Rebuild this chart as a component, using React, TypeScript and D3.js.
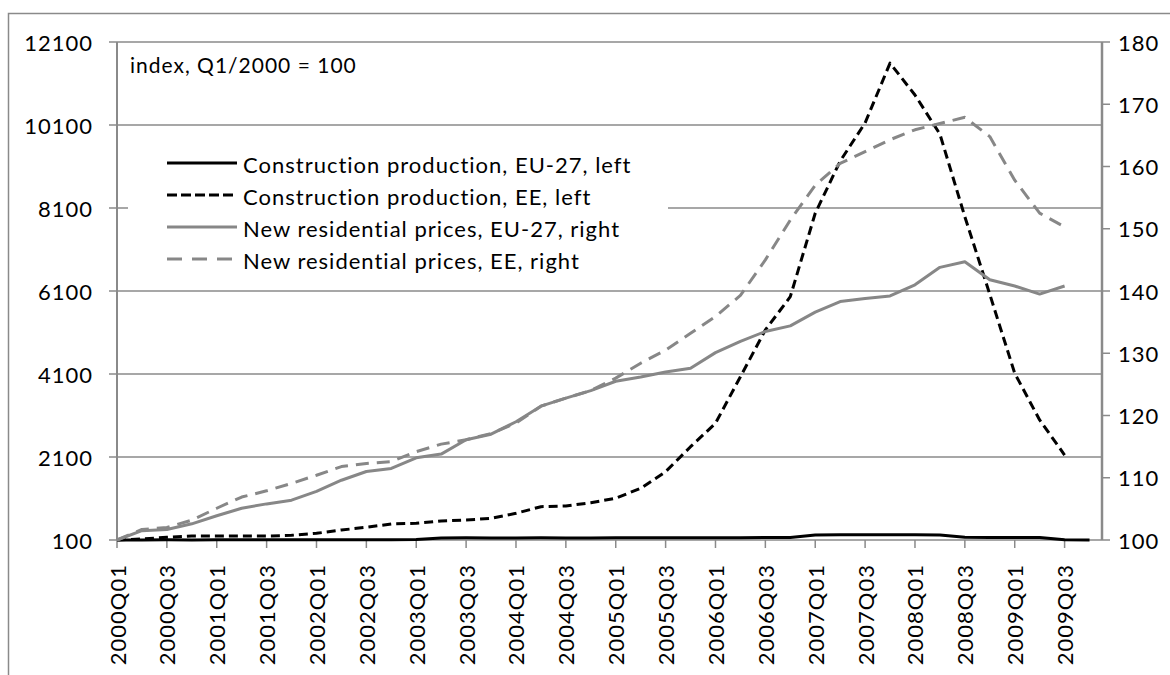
import React from "react";
import * as d3 from "d3";

const quarters = [
  "2000Q01", "2000Q02", "2000Q03", "2000Q04",
  "2001Q01", "2001Q02", "2001Q03", "2001Q04",
  "2002Q01", "2002Q02", "2002Q03", "2002Q04",
  "2003Q01", "2003Q02", "2003Q03", "2003Q04",
  "2004Q01", "2004Q02", "2004Q03", "2004Q04",
  "2005Q01", "2005Q02", "2005Q03", "2005Q04",
  "2006Q01", "2006Q02", "2006Q03", "2006Q04",
  "2007Q01", "2007Q02", "2007Q03", "2007Q04",
  "2008Q01", "2008Q02", "2008Q03", "2008Q04",
  "2009Q01", "2009Q02", "2009Q03", "2009Q04",
];

// left axis
const constructionEU: (number | null)[] = [
  100, 102, 104, 103, 104, 104, 105, 105, 106, 106, 107, 108, 110, 150, 152, 150, 151, 152, 150, 151,
  153, 152, 154, 155, 153, 156, 158, 160, 222, 225, 226, 228, 227, 222, 165, 162, 160, 158, 105, 100,
];
const constructionEE: (number | null)[] = [
  100, 125, 165, 196, 196, 196, 196, 213, 261, 341, 406, 486, 502, 558, 582, 620, 743, 903, 919, 999,
  1105, 1346, 1746, 2348, 2912, 4035, 5160, 5963, 7973, 9230, 10150, 11590, 10823, 9880, 7890, 6020, 4117, 2992, 2148, null,
];
// right axis
const pricesEU: (number | null)[] = [
  100, 101.5, 101.7, 102.6, 103.9, 105.1, 105.8, 106.4, 107.8, 109.6, 111.0, 111.5, 113.2, 113.8, 116.1, 117.0, 119.0, 121.5, 122.8, 124.0,
  125.5, 126.2, 127.0, 127.6, 130.1, 131.9, 133.5, 134.4, 136.6, 138.3, 138.8, 139.2, 141.0, 143.8, 144.7, 141.8, 140.8, 139.5, 140.8, null,
];
const pricesEE: (number | null)[] = [
  100, 101.7, 102.0, 103.2, 105.1, 106.9, 107.9, 109.1, 110.4, 111.8, 112.3, 112.6, 114.2, 115.4, 116.1, 117.1, 118.8, 121.5, 122.8, 124.0,
  126.0, 128.4, 130.5, 133.2, 135.9, 139.3, 145.0, 151.4, 157.0, 160.5, 162.4, 164.3, 165.9, 166.9, 167.9, 164.8, 157.8, 152.5, 150.3, null,
];

const leftTicks = [100, 2100, 4100, 6100, 8100, 10100, 12100];
const rightTicks = [100, 110, 120, 130, 140, 150, 160, 170, 180];

const seriesNames = [
  "Construction production, EU-27, left",
  "Construction production, EE, left",
  "New residential prices, EU-27, right",
  "New residential prices, EE, right",
];

const FONT = "Lato, 'DejaVu Sans', sans-serif";
const GRID = "#8a8a8a";
const LINE_GRAY = "#878787";

const txt = { fontFamily: FONT, fontSize: 22, fill: "#000", letterSpacing: 1 };

const App: React.FC = () => {
  const plotLeft = 117;
  const plotRight = 1102;
  const plotTop = 42;
  const plotBottom = 540;

  const x = d3.scaleLinear().domain([0, 39.5]).range([plotLeft, plotRight]);
  const yLeft = d3.scaleLinear().domain([100, 12100]).range([plotBottom, plotTop]);
  const yRight = d3.scaleLinear().domain([100, 180]).range([plotBottom, plotTop]);

  const mkLine = (scale: d3.ScaleLinear<number, number>) =>
    d3
      .line<number | null>()
      .defined((d) => d !== null)
      .x((_, i) => x(i))
      .y((d) => scale(d as number));

  const lineL = mkLine(yLeft);
  const lineR = mkLine(yRight);

  const styles = [
    { color: "#000", dash: undefined as string | undefined },
    { color: "#000", dash: "9,5" },
    { color: LINE_GRAY, dash: undefined },
    { color: LINE_GRAY, dash: "13,8" },
  ];

  const paths = [
    lineL(constructionEU),
    lineL(constructionEE),
    lineR(pricesEU),
    lineR(pricesEE),
  ];

  const legendX = 167;
  const legendY0 = 163;
  const legendStep = 32;

  return (
    <svg width={1170} height={675} style={{ position: "absolute", left: 0, top: 0, background: "#fff" }}>
      <rect x={8.5} y={13.5} width={1175} height={700} fill="#fff" stroke={GRID} strokeWidth={1.5} />

      {/* gridlines */}
      {leftTicks.map((t) => (
        <line key={"g" + t} x1={plotLeft} x2={plotRight} y1={yLeft(t)} y2={yLeft(t)} stroke={GRID} strokeWidth={1.5} />
      ))}

      {/* left axis */}
      <line x1={plotLeft} x2={plotLeft} y1={plotTop} y2={plotBottom} stroke={GRID} strokeWidth={2} />
      {leftTicks.map((t) => (
        <g key={"l" + t}>
          <line x1={plotLeft - 8} x2={plotLeft} y1={yLeft(t)} y2={yLeft(t)} stroke={GRID} strokeWidth={1.5} />
          <text x={93} y={yLeft(t)} textAnchor="end" dominantBaseline="central" {...txt}>
            {t}
          </text>
        </g>
      ))}

      {/* right axis */}
      <line x1={plotRight} x2={plotRight} y1={plotTop} y2={plotBottom} stroke={GRID} strokeWidth={2.5} />
      {rightTicks.map((t) => (
        <g key={"r" + t}>
          <line x1={plotRight} x2={plotRight + 8} y1={yRight(t)} y2={yRight(t)} stroke={GRID} strokeWidth={1.5} />
          <text x={1118} y={yRight(t)} textAnchor="start" dominantBaseline="central" {...txt}>
            {t}
          </text>
        </g>
      ))}

      {/* x axis */}
      {quarters.map((q, i) =>
        i % 2 === 0 ? (
          <g key={q}>
            <line x1={x(i)} x2={x(i)} y1={plotBottom} y2={plotBottom + 8} stroke={GRID} strokeWidth={1.5} />
            <text
              transform={`translate(${x(i)},${564}) rotate(-90)`}
              textAnchor="end"
              dominantBaseline="central"
              {...txt}
            >
              {q}
            </text>
          </g>
        ) : null
      )}

      {/* series */}
      {paths.map((p, k) => (
        <path
          key={"s" + k}
          d={p || ""}
          fill="none"
          stroke={styles[k].color}
          strokeWidth={3}
          strokeDasharray={styles[k].dash}
          strokeLinejoin="round"
        />
      ))}

      <text x={130} y={64} dominantBaseline="central" {...txt} fontSize={21}>
        index, Q1/2000 = 100
      </text>

      {/* legend */}
      <rect x={128} y={146} width={540} height={132} fill="#fff" />
      {seriesNames.map((name, k) => {
        const ly = legendY0 + k * legendStep;
        return (
          <g key={name}>
            <line
              x1={legendX}
              x2={legendX + 70}
              y1={ly}
              y2={ly}
              stroke={styles[k].color}
              strokeWidth={3}
              strokeDasharray={k === 1 ? "10,4" : k === 3 ? "15,10" : undefined}
            />
            <text x={243} y={ly + 1} dominantBaseline="central" {...txt}>
              {name}
            </text>
          </g>
        );
      })}
    </svg>
  );
};

export default App;
